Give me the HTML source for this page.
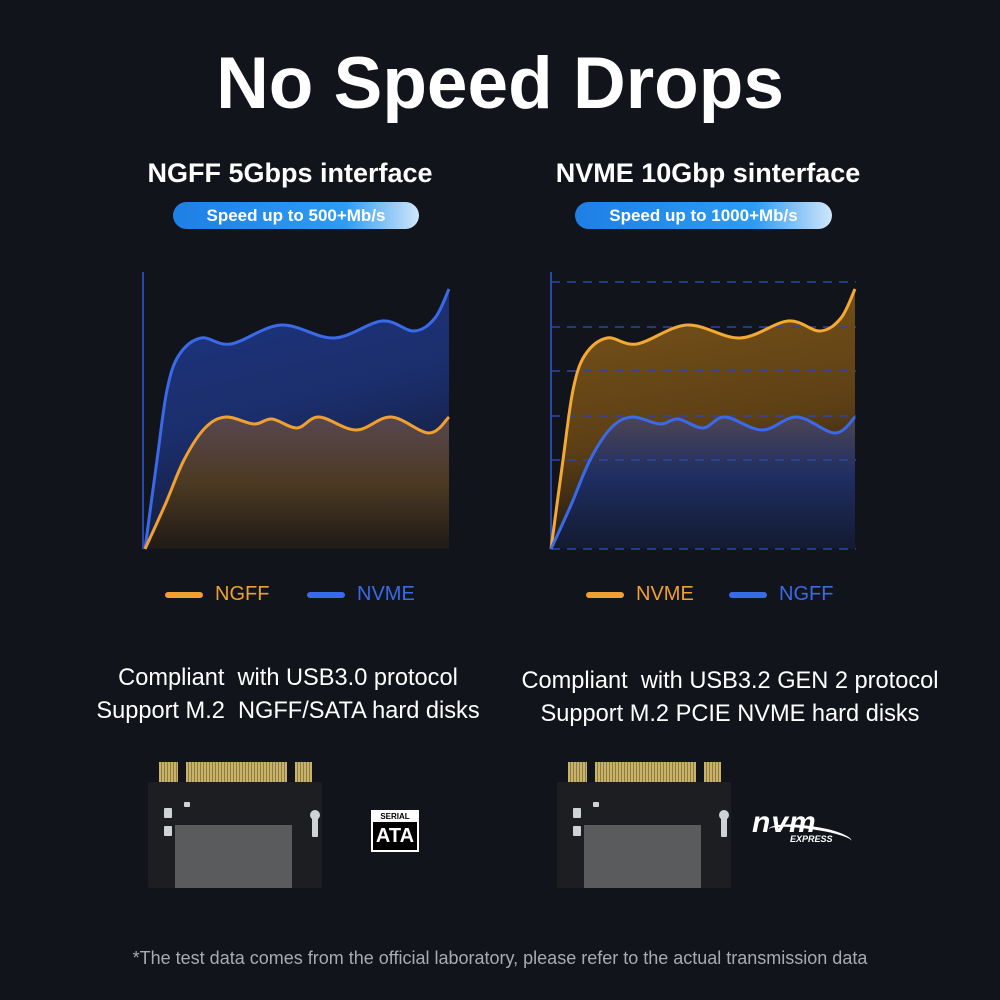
<!DOCTYPE html>
<html><head><meta charset="utf-8"><style>
html,body{margin:0;padding:0;background:#11141b;}
body{width:1000px;height:1000px;position:relative;overflow:hidden;font-family:"Liberation Sans",sans-serif;color:#fff;}
.t{position:absolute;white-space:nowrap;text-align:center;}
.pill{position:absolute;height:27px;border-radius:14px;background:linear-gradient(90deg,#1e7fe6,#2f9bf2 70%,#cfe6fa);font-weight:bold;font-size:17px;line-height:27px;text-align:center;color:#fff;}
.board{position:absolute;width:174px;height:128px;}
.pcb{position:absolute;left:0;top:22px;width:174px;height:106px;background:#1c1e22;border-radius:2px;}
.chip{position:absolute;left:27px;top:65px;width:117px;height:63px;background:#5a5b5d;}
.pins{position:absolute;top:2px;height:20px;background:repeating-linear-gradient(90deg,#c9b36a 0 2px,#8d7c44 2px 3px);}
.comp{position:absolute;background:#cfd3d6;border-radius:1px;}
</style></head><body>
<div class="t" style="left:0;width:1000px;top:42px;font-size:73px;font-weight:bold;">No Speed Drops</div>
<div class="t" style="left:90px;width:400px;top:158px;font-size:27px;font-weight:bold;">NGFF 5Gbps interface</div>
<div class="t" style="left:498px;width:420px;top:158px;font-size:27px;font-weight:bold;">NVME 10Gbp sinterface</div>
<div class="pill" style="left:173px;top:202px;width:246px;">Speed up to 500+Mb/s</div>
<div class="pill" style="left:575px;top:202px;width:257px;">Speed up to 1000+Mb/s</div>

<svg width="1000" height="1000" style="position:absolute;left:0;top:0">
<defs>
<linearGradient id="bl" x1="0" y1="0" x2="0.3" y2="1"><stop offset="0" stop-color="#1e3580"/><stop offset="0.55" stop-color="#1b2e6c"/><stop offset="1" stop-color="#121a33"/></linearGradient>
<linearGradient id="ol" x1="0" y1="0" x2="0" y2="1"><stop offset="0" stop-color="#574750"/><stop offset="0.5" stop-color="#4c3a22"/><stop offset="1" stop-color="#1f1a16"/></linearGradient>
<linearGradient id="or" x1="0" y1="0" x2="0.2" y2="1"><stop offset="0" stop-color="#7a5418"/><stop offset="0.6" stop-color="#5e4016"/><stop offset="1" stop-color="#1c1712"/></linearGradient>
<linearGradient id="br" x1="0" y1="0" x2="0" y2="1"><stop offset="0" stop-color="#4d4555"/><stop offset="0.45" stop-color="#1f2e62"/><stop offset="1" stop-color="#131a30"/></linearGradient>
</defs>
<line x1="143" y1="272" x2="143" y2="549" stroke="#2a48a8" stroke-width="2"/>
<line x1="551" y1="272" x2="551" y2="549" stroke="#2a48a8" stroke-width="2"/>
<path id="lTopF" fill="url(#bl)"/><path id="lBotF" fill="url(#ol)"/>
<path id="lTop" fill="none" stroke="#3a6ae8" stroke-width="3"/><path id="lBot" fill="none" stroke="#f0a030" stroke-width="3"/>
<path id="rTopF" fill="url(#or)"/><path id="rBotF" fill="url(#br)"/>
<g stroke="#2a48a8" stroke-width="1.5" stroke-dasharray="9,7">
<line x1="551" y1="282" x2="856" y2="282"/><line x1="551" y1="327" x2="856" y2="327"/>
<line x1="551" y1="371" x2="856" y2="371"/><line x1="551" y1="416" x2="856" y2="416"/>
<line x1="551" y1="460" x2="856" y2="460"/><line x1="551" y1="549" x2="856" y2="549"/>
</g>
<path id="rTop" fill="none" stroke="#f5a935" stroke-width="3"/><path id="rBot" fill="none" stroke="#3a6ae8" stroke-width="3"/>
</svg>
<script>
(function(){
var tp=[[0,549],[12,460],[22,390],[34,355],[56,338],[86,344],[136,325],[189,338],[237,321],[269,331],[290,318],[304,289]];
var bt=[[0,549],[20,505],[39,460],[60,428],[81,417],[109,424],[127,419],[152,428],[174,417],[211,430],[246,417],[284,433],[304,417]];
function cr(p,ox){var d="M"+(p[0][0]+ox)+","+p[0][1];for(var i=0;i<p.length-1;i++){var a=p[Math.max(0,i-1)],b=p[i],c=p[i+1],e=p[Math.min(p.length-1,i+2)];
d+=" C"+(b[0]+(c[0]-a[0])/6+ox)+","+(b[1]+(c[1]-a[1])/6)+" "+(c[0]-(e[0]-b[0])/6+ox)+","+(c[1]-(e[1]-b[1])/6)+" "+(c[0]+ox)+","+c[1];}return d;}
function st(id,p,ox){var d=cr(p,ox);document.getElementById(id).setAttribute("d",d);document.getElementById(id+"F").setAttribute("d",d+" L"+(304+ox)+",549 Z");}
st("lTop",tp,145);st("lBot",bt,145);st("rTop",tp,551);st("rBot",bt,551);
})();
</script>

<div style="position:absolute;left:165px;top:592px;width:38px;height:6px;border-radius:3px;background:#f0a030"></div>
<div class="t" style="left:215px;top:583px;font-size:20px;color:#f0a030;">NGFF</div>
<div style="position:absolute;left:307px;top:592px;width:38px;height:6px;border-radius:3px;background:#3a6ae8"></div>
<div class="t" style="left:357px;top:583px;font-size:20px;color:#3a6ae8;">NVME</div>
<div style="position:absolute;left:586px;top:592px;width:38px;height:6px;border-radius:3px;background:#f0a030"></div>
<div class="t" style="left:636px;top:583px;font-size:20px;color:#f0a030;">NVME</div>
<div style="position:absolute;left:729px;top:592px;width:38px;height:6px;border-radius:3px;background:#3a6ae8"></div>
<div class="t" style="left:779px;top:583px;font-size:20px;color:#3a6ae8;">NGFF</div>

<div class="t" style="left:68px;width:440px;top:662px;font-size:23.6px;line-height:33px;">Compliant&nbsp; with USB3.0 protocol<br>Support M.2&nbsp; NGFF/SATA hard disks</div>
<div class="t" style="left:490px;width:480px;top:665px;font-size:23.6px;line-height:33px;">Compliant&nbsp; with USB3.2 GEN 2 protocol<br>Support M.2 PCIE NVME hard disks</div>

<div class="board" style="left:148px;top:760px;">
<div class="pins" style="left:11px;width:19px"></div><div class="pins" style="left:38px;width:101px"></div><div class="pins" style="left:147px;width:17px"></div>
<div class="pcb"></div><div class="chip"></div>
<div class="comp" style="left:16px;top:48px;width:8px;height:10px"></div><div class="comp" style="left:16px;top:66px;width:8px;height:10px"></div>
<div class="comp" style="left:36px;top:42px;width:6px;height:5px"></div><div class="comp" style="left:164px;top:55px;width:6px;height:22px"></div>
<div style="position:absolute;left:162px;top:50px;width:10px;height:10px;border-radius:50%;background:#cfd3d6"></div>
</div>
<div class="board" style="left:557px;top:760px;">
<div class="pins" style="left:11px;width:19px"></div><div class="pins" style="left:38px;width:101px"></div><div class="pins" style="left:147px;width:17px"></div>
<div class="pcb"></div><div class="chip"></div>
<div class="comp" style="left:16px;top:48px;width:8px;height:10px"></div><div class="comp" style="left:16px;top:66px;width:8px;height:10px"></div>
<div class="comp" style="left:36px;top:42px;width:6px;height:5px"></div><div class="comp" style="left:164px;top:55px;width:6px;height:22px"></div>
<div style="position:absolute;left:162px;top:50px;width:10px;height:10px;border-radius:50%;background:#cfd3d6"></div>
</div>

<div style="position:absolute;left:371px;top:810px;width:48px;height:42px;background:#fff;"></div>
<div style="position:absolute;left:373px;top:812px;width:44px;height:10px;background:#fff;color:#000;font-size:8px;font-weight:bold;text-align:center;line-height:10px;">SERIAL</div>
<div style="position:absolute;left:373px;top:822px;width:44px;height:28px;background:#000;color:#fff;font-size:20px;font-weight:bold;text-align:center;line-height:28px;">ATA</div>

<div class="t" style="left:752px;top:806px;font-size:30px;font-style:italic;font-weight:bold;letter-spacing:1px;">nvm</div>
<div class="t" style="left:790px;top:834px;font-size:9px;font-style:italic;font-weight:bold;">EXPRESS</div>
<div style="position:absolute;left:768px;top:826px;width:84px;height:16px;border-top:3px solid #fff;border-radius:50% 50% 0 0;transform:rotate(8deg);"></div>

<div class="t" style="left:0;width:1000px;top:948px;font-size:18px;color:#a8abb0;">*The test data comes from the official laboratory, please refer to the actual transmission data</div>
</body></html>
